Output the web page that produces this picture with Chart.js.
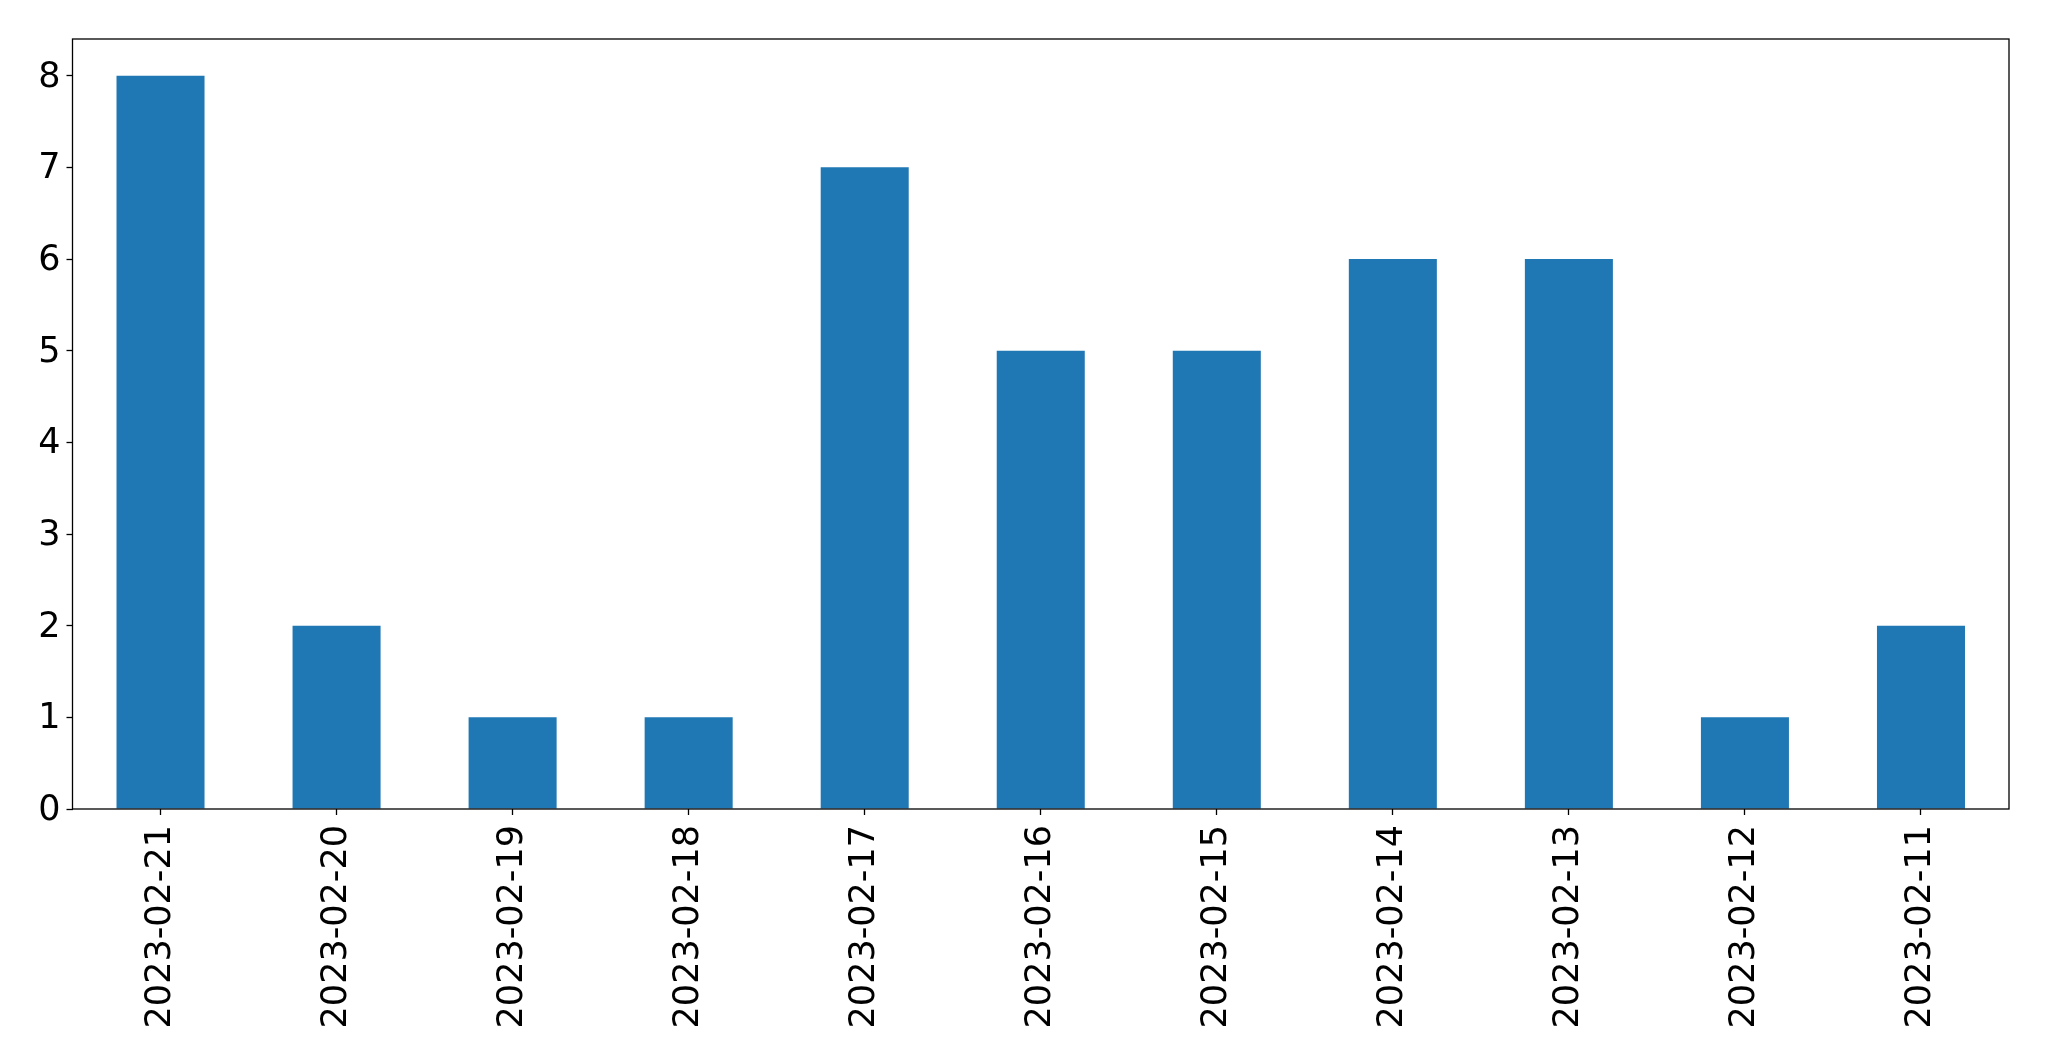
<!DOCTYPE html>
<html lang="en">
<head>
    <meta charset="UTF-8">
    <title>Daily counts</title>
    <script src="https://cdn.jsdelivr.net/npm/chart.js"></script>
    <style>
        body {
            margin: 0;
            background-color: #fff;
        }
        canvas {
            display: block;
        }
    </style>
</head>
<body>
    <canvas id="barChart" width="2049" height="1061"></canvas>

    <script>
        // Dates as shown on the x axis (newest first)
        const dates = ['2023-02-21', '2023-02-20', '2023-02-19', '2023-02-18', '2023-02-17',
                       '2023-02-16', '2023-02-15', '2023-02-14', '2023-02-13', '2023-02-12', '2023-02-11'];
        const counts = [8, 2, 1, 1, 7, 5, 5, 6, 6, 1, 2];
        const yTicks = [0, 1, 2, 3, 4, 5, 6, 7, 8];

        const tickFont = { family: 'DejaVu Sans', size: 35 };

        // draw the full box around the plot like matplotlib does
        const frame = {
            id: 'frame',
            afterDraw(chart) {
                const a = chart.chartArea;
                const c = chart.ctx;
                c.save();
                c.strokeStyle = '#000';
                c.lineWidth = 1.3;
                c.strokeRect(a.left, a.top, a.right - a.left, a.bottom - a.top);
                c.restore();
            }
        };

        const ctx = document.getElementById('barChart').getContext('2d');
        new Chart(ctx, {
            type: 'bar',
            data: {
                labels: dates,
                datasets: [{
                    data: counts,
                    backgroundColor: '#1f77b4',
                    borderWidth: 0,
                    categoryPercentage: 1.0,
                    barPercentage: 0.5
                }]
            },
            options: {
                responsive: false,
                animation: false,
                layout: {
                    padding: { top: 39, right: 40, left: 0, bottom: 0 }
                },
                plugins: {
                    legend: { display: false },
                    tooltip: { enabled: false }
                },
                scales: {
                    x: {
                        offset: true,
                        grid: {
                            display: true,
                            offset: false,
                            drawOnChartArea: false,
                            tickLength: 6,
                            tickColor: '#000',
                            tickWidth: 1.3
                        },
                        border: { display: false },
                        ticks: {
                            color: '#000',
                            font: tickFont,
                            minRotation: 90,
                            maxRotation: 90,
                            padding: 10,
                            autoSkip: false
                        },
                        afterFit(scale) { scale.height = 252; }
                    },
                    y: {
                        min: 0,
                        max: 8.4,
                        afterBuildTicks(scale) {
                            scale.ticks = yTicks.map(v => ({ value: v }));
                        },
                        grid: {
                            display: true,
                            drawOnChartArea: false,
                            tickLength: 6,
                            tickColor: '#000',
                            tickWidth: 1.3
                        },
                        border: { display: false },
                        ticks: {
                            color: '#000',
                            font: tickFont,
                            padding: 6,
                            labelOffset: 2
                        },
                        afterFit(scale) { scale.width = 72.5; }
                    }
                }
            },
            plugins: [frame]
        });
    </script>
</body>
</html>
